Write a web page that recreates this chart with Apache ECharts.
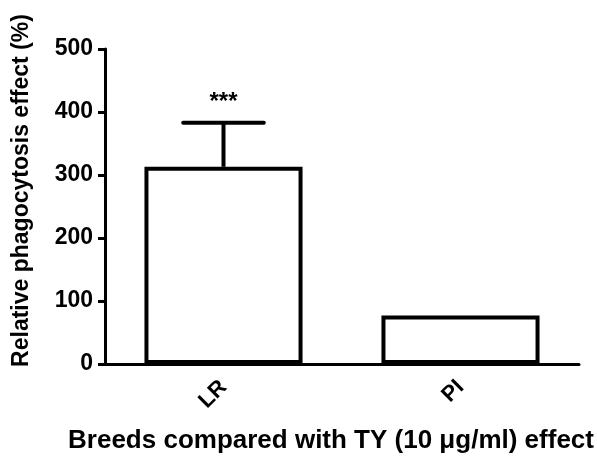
<!DOCTYPE html>
<html>
<head>
<meta charset="utf-8">
<script src="https://cdn.jsdelivr.net/npm/echarts@6/dist/echarts.min.js"></script>
<style>
  html, body { margin: 0; padding: 0; background: #fff; }
  #chart { width: 597px; height: 459px; }
</style>
</head>
<body>
<div id="chart"></div>
<script>
// breeds on x axis
var categories = ['LR', 'PI'];
// mean relative phagocytosis effect (%)
var means = [313, 77];
// upper error (SEM) above the mean
var errors = [70, 0];
// significance marks above the error bars
var marks = ['***', ''];

var yTicks = { min: 0, max: 500, interval: 100 };

var font = "'Liberation Sans', Arial, sans-serif";

var chart = echarts.init(document.getElementById('chart'));

var errData = [];
for (var i = 0; i < categories.length; i++) {
    errData.push([i, means[i], errors[i], marks[i]]);
}

var option = {
    backgroundColor: '#fff',
    animation: false,
    grid: { left: 105, right: 18, top: 49, bottom: 94 },
    xAxis: {
        type: 'category',
        data: categories,
        name: 'Breeds compared with TY (10 \u03bcg/ml) effect',
        nameLocation: 'middle',
        nameGap: 64,
        nameTextStyle: { fontFamily: font, fontWeight: 'bold', fontSize: 26, color: '#000', padding: [0, 0, 0, -22] },
        axisLine: { lineStyle: { color: '#000', width: 3 } },
        axisTick: { alignWithLabel: true, length: 8, lineStyle: { color: '#000', width: 3 } },
        axisLabel: { rotate: 45, margin: 20, fontFamily: font, fontWeight: 'bold', fontSize: 22, color: '#000' }
    },
    yAxis: {
        type: 'value',
        min: yTicks.min,
        max: yTicks.max,
        interval: yTicks.interval,
        name: 'Relative phagocytosis effect (%)',
        nameLocation: 'middle',
        nameGap: 72,
        nameTextStyle: { fontFamily: font, fontWeight: 'bold', fontSize: 23, color: '#000', padding: [0, 0, 0, 32] },
        axisLine: { show: true, lineStyle: { color: '#000', width: 3 } },
        axisTick: { show: true, length: 7, lineStyle: { color: '#000', width: 3 } },
        axisLabel: { margin: 12, fontFamily: font, fontWeight: 'bold', fontSize: 23, color: '#000' },
        splitLine: { show: false }
    },
    series: [
        {
            type: 'bar',
            data: means,
            barWidth: '66.7%',
            itemStyle: { color: '#fff', borderColor: '#000', borderWidth: 4 }
        },
        {
            type: 'custom',
            data: errData,
            z: 5,
            renderItem: function (params, api) {
                var idx = api.value(0);
                var m = api.value(1);
                var e = api.value(2);
                var mark = errData[params.dataIndex][3];
                var band = api.size([1, 0])[0];
                var half = band * 0.17;
                var base = api.coord([idx, m]);
                var top = api.coord([idx, m + e]);
                var children = [];
                if (e > 0) {
                    children.push({
                        type: 'line',
                        shape: { x1: base[0], y1: base[1], x2: top[0], y2: top[1] },
                        style: { stroke: '#000', lineWidth: 4 }
                    });
                    children.push({
                        type: 'line',
                        shape: { x1: top[0] - half, y1: top[1], x2: top[0] + half, y2: top[1] },
                        style: { stroke: '#000', lineWidth: 4, lineCap: 'round' }
                    });
                }
                if (mark) {
                    children.push({
                        type: 'text',
                        style: {
                            x: top[0], y: top[1] - 8,
                            text: mark,
                            fill: '#000',
                            font: 'bold 24px ' + font,
                            align: 'center',
                            verticalAlign: 'bottom'
                        }
                    });
                }
                return { type: 'group', children: children };
            }
        }
    ]
};

chart.setOption(option);
</script>
</body>
</html>
